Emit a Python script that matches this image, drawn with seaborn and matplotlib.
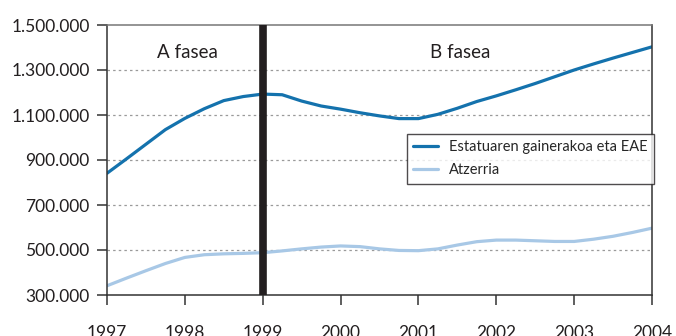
import matplotlib
matplotlib.use("Agg")
import matplotlib.pyplot as plt
from matplotlib.ticker import FuncFormatter
import seaborn as sns
import pandas as pd

# Quarterly observations, 1997-2004
years = [1997.00, 1997.25, 1997.50, 1997.75, 1998.00, 1998.25, 1998.50, 1998.75,
         1999.00, 1999.25, 1999.50, 1999.75, 2000.00, 2000.25, 2000.50, 2000.75,
         2001.00, 2001.25, 2001.50, 2001.75, 2002.00, 2002.25, 2002.50, 2002.75,
         2003.00, 2003.25, 2003.50, 2003.75, 2004.00]
estatua = [841000, 905000, 970000, 1035000, 1085000, 1128000, 1164000, 1182000,
           1193000, 1190000, 1162000, 1140000, 1126000, 1110000, 1096000, 1084000,
           1084000, 1103000, 1130000, 1160000, 1185000, 1212000, 1240000, 1270000,
           1300000, 1327000, 1353000, 1378000, 1403000]
atzerria = [341000, 375000, 408000, 440000, 467000, 479000, 483000, 485000,
            488000, 496000, 505000, 513000, 518000, 515000, 505000, 498000,
            497000, 505000, 522000, 537000, 544000, 544000, 541000, 538000,
            538000, 548000, 561000, 578000, 597000]
series_names = ["Estatuaren gainerakoa eta EAE", "Atzerria"]
series_colors = ["#1472ad", "#a8c8e6"]
year_ticks = [1997, 1998, 1999, 2000, 2001, 2002, 2003, 2004]
y_ticks = [300000, 500000, 700000, 900000, 1100000, 1300000, 1500000]
phase_labels = ["A fasea", "B fasea"]

df = pd.DataFrame({
    "urtea": years * 2,
    "balioa": estatua + atzerria,
    "seriea": [series_names[0]] * len(years) + [series_names[1]] * len(years),
})

sns.set_theme(style="white")
plt.rcParams["font.family"] = ["Lato", "DejaVu Sans"]

fig = plt.figure(figsize=(6.76, 3.36), dpi=100)
ax = fig.add_axes([107 / 676, 1 - 295 / 336, 545 / 676, 270 / 336])

sns.lineplot(data=df, x="urtea", y="balioa", hue="seriea",
             palette=dict(zip(series_names, series_colors)),
             linewidth=2.3, ax=ax, legend=True)
for line in ax.get_lines():
    line.set_solid_joinstyle("round")

# Phase separator
ax.axvline(1999, color="#231f20", linewidth=5.5, zorder=5)

ax.text(1998.03, 1355000, phase_labels[0], ha="center", va="baseline",
        fontsize=13.5, color="#231f20")
ax.text(2001.54, 1355000, phase_labels[1], ha="center", va="baseline",
        fontsize=13.5, color="#231f20")

ax.set_xlim(1997, 2004)
ax.set_ylim(300000, 1500000)
ax.set_xticks(year_ticks)
ax.set_yticks(y_ticks)
ax.yaxis.set_major_formatter(FuncFormatter(lambda v, p: f"{int(v):,}".replace(",", ".")))
ax.set_xlabel("")
ax.set_ylabel("")

for yv in y_ticks[1:-1]:
    ax.axhline(yv, color="#9a9a9a", linewidth=0.9, linestyle=(0, (2, 2.5)), zorder=0)

ax.tick_params(axis="both", direction="out", length=7.5, width=1.1, color="#333333",
               labelsize=12.5, labelcolor="#231f20")
ax.tick_params(axis="x", pad=14, bottom=True)
ax.tick_params(axis="y", pad=5, left=True)

for side in ["left", "bottom", "right"]:
    ax.spines[side].set_color("#333333")
    ax.spines[side].set_linewidth(1.1)
ax.spines["top"].set_color("#777777")
ax.spines["top"].set_linewidth(1.1)

leg = ax.legend(loc="upper right", bbox_to_anchor=(1.004, 0.597), frameon=True,
                fancybox=False, edgecolor="#231f20", fontsize=10.5,
                handlelength=1.7, handletextpad=0.75, borderpad=0.45,
                labelspacing=0.6, borderaxespad=0, title=None)
leg.get_frame().set_linewidth(1.0)
leg.set_zorder(6)
for line in leg.get_lines():
    line.set_linewidth(2.3)

fig.savefig("out.png", dpi=100)
